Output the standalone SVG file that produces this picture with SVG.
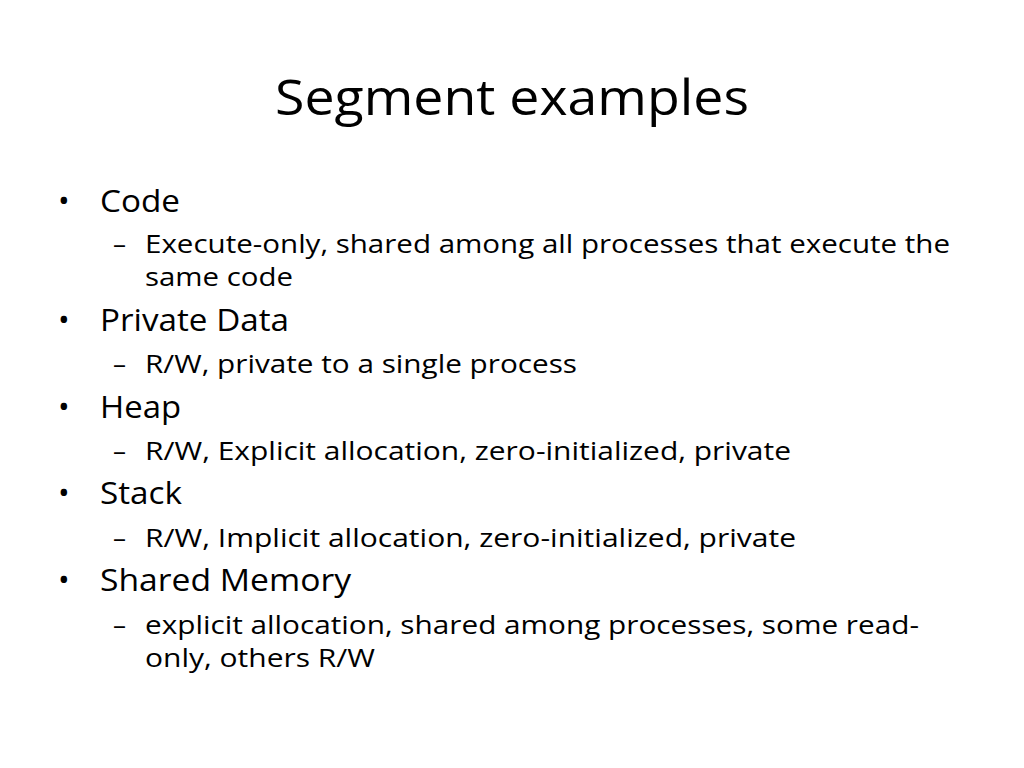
<svg xmlns="http://www.w3.org/2000/svg" width="1024" height="768" viewBox="0 0 1024 768">
<style>
text{font-family:"Open Sans","Liberation Sans",sans-serif;fill:#000}
.t{font-size:50px}
.b{font-size:31px}
.s{font-size:26px}
</style>
<rect width="1024" height="768" fill="#fff"/>
<text class="t" x="512" y="115" text-anchor="middle" textLength="474" lengthAdjust="spacingAndGlyphs">Segment examples</text>
<g id="bullets">
<text class="b" x="58" y="212">•</text><text class="b" x="100" y="212" textLength="80" lengthAdjust="spacingAndGlyphs">Code</text>
<text class="s" x="113" y="253">–</text><text class="s" x="145" y="253" textLength="805" lengthAdjust="spacingAndGlyphs">Execute-only, shared among all processes that execute the</text>
<text class="s" x="145" y="286" textLength="148" lengthAdjust="spacingAndGlyphs">same code</text>
<text class="b" x="58" y="331">•</text><text class="b" x="100" y="331" textLength="189" lengthAdjust="spacingAndGlyphs">Private Data</text>
<text class="s" x="113" y="373">–</text><text class="s" x="145" y="373" textLength="432" lengthAdjust="spacingAndGlyphs">R/W, private to a single process</text>
<text class="b" x="58" y="418">•</text><text class="b" x="100" y="418" textLength="81" lengthAdjust="spacingAndGlyphs">Heap</text>
<text class="s" x="113" y="460">–</text><text class="s" x="145" y="460" textLength="646" lengthAdjust="spacingAndGlyphs">R/W, Explicit allocation, zero-initialized, private</text>
<text class="b" x="58" y="504">•</text><text class="b" x="100" y="504" textLength="82" lengthAdjust="spacingAndGlyphs">Stack</text>
<text class="s" x="113" y="547">–</text><text class="s" x="145" y="547" textLength="651" lengthAdjust="spacingAndGlyphs">R/W, Implicit allocation, zero-initialized, private</text>
<text class="b" x="58" y="591">•</text><text class="b" x="100" y="591" textLength="251" lengthAdjust="spacingAndGlyphs">Shared Memory</text>
<text class="s" x="113" y="634">–</text><text class="s" x="145" y="634" textLength="774" lengthAdjust="spacingAndGlyphs">explicit allocation, shared among processes, some read-</text>
<text class="s" x="145" y="667" textLength="230" lengthAdjust="spacingAndGlyphs">only, others R/W</text>
</g>
<g id="connectors"/>
</svg>
